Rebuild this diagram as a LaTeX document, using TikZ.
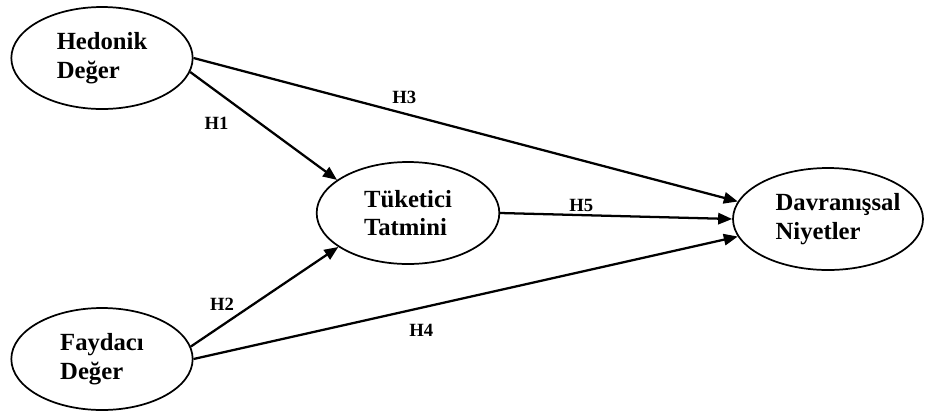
\documentclass[tikz,border=0pt]{standalone}
\usepackage{fontspec}
\setmainfont{Liberation Serif}
\usepackage{tikz}
\usetikzlibrary{shapes.geometric}
\usetikzlibrary{arrows.meta}
\tikzstyle{ellbox}=[ellipse,draw=black,line width=1.3pt,minimum width=136pt,minimum height=76.5pt,inner sep=0pt,align=left,font=\fontsize{18.5}{21.5}\selectfont\bfseries]
\tikzstyle{edgepath} = [-{Triangle[length=10.5pt,width=8.5pt]},line width=1.7pt]
\tikzstyle{hlabel}=[font=\fontsize{14}{15}\selectfont\bfseries,inner sep=0pt]

\begin{document}
\begin{tikzpicture}[x=0.75pt,y=-0.75pt]
        \useasboundingbox (0,0) rectangle (925,412);
        \node[ellbox] (hed) at (102,58) {Hedonik\\Değer};
        \node[ellbox] (fay) at (102,359) {Faydacı\\Değer};
        \node[ellbox, minimum width=137pt] (tuk) at (408,213) {Tüketici\\Tatmini};
        \node[ellbox, minimum width=142.5pt, inner xsep=-10pt] (dav) at (828,219) {\hspace*{15pt}Davranışsal\\\hspace*{15pt}Niyetler};

        \path[edgepath]
            (hed.351) edge node[hlabel, pos=0.28, xshift=-11pt, yshift=-15.5pt] (h1) {H1} (tuk.155)
            (fay.8) edge node[hlabel, pos=0.28, xshift=-7.5pt, yshift=11pt] (h2) {H2} (tuk.206)
            (hed.east) edge node[hlabel, pos=0.38, xshift=3pt, yshift=11.3pt] (h3) {H3} (dav.169)
            (fay.east) edge node[hlabel, pos=0.41, xshift=3.5pt, yshift=-16pt] (h4) {H4} (dav.191)
            (tuk.east) edge node[hlabel, pos=0.35, yshift=7pt] (h5) {H5} (dav.west);
    \end{tikzpicture}
\end{document}
